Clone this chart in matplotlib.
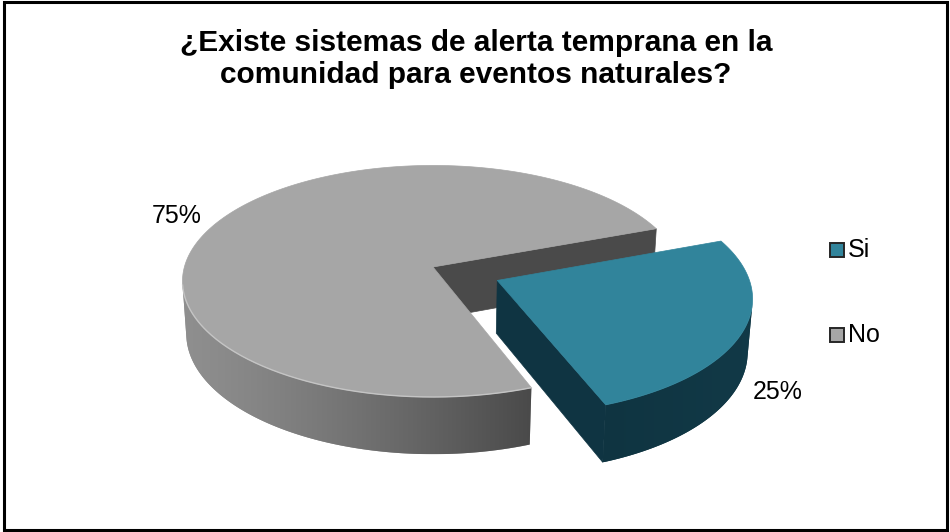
import numpy as np
import matplotlib
matplotlib.use("Agg")
import matplotlib.pyplot as plt
from matplotlib.patches import Polygon, Rectangle

# ---- data ---------------------------------------------------------------
labels = ["Si", "No"]
values = [25, 75]
title_lines = ["¿Existe sistemas de alerta temprana en la",
               "comunidad para eventos naturales?"]

# ---- styling ------------------------------------------------------------
top_colors = ["#31849B", "#A6A6A6"]
radial_colors = ["#0F3442", "#4A4A4A"]
side_light = [np.array([0.060, 0.205, 0.255]), np.array([0.56, 0.56, 0.56])]
side_dark = [np.array([0.070, 0.225, 0.280]), np.array([0.29, 0.29, 0.29])]
explode = [0.28, 0.0]

plt.rcParams["font.family"] = ["Liberation Sans", "DejaVu Sans"]

# ---- 3D view ------------------------------------------------------------
ELEV = np.radians(27.3)
DIST = 7.24
FOCAL = 1800.0
THICK = 0.24
START = 20.5            # degrees, edge of the first slice; slices run clockwise
ORIGIN = (433.0, 267.0)

S, C = np.sin(ELEV), np.cos(ELEV)
CAM = np.array([0.0, -DIST * C, DIST * S])


def project(X, Y, Z):
    X = np.asarray(X, float)
    Y = np.asarray(Y, float)
    Z = np.asarray(Z, float) * np.ones_like(X)
    depth = DIST + Y * C - Z * S
    sx = FOCAL * X / depth
    sy = FOCAL * (Y * S + Z * C) / depth
    return ORIGIN[0] + sx, ORIGIN[1] - sy


def faces_camera(point, normal):
    return np.dot(np.asarray(point) - CAM, np.asarray(normal)) < 0


fig = plt.figure(figsize=(9.5, 5.32), dpi=100)
ax = fig.add_axes([0, 0, 1, 1])

total = float(sum(values))
edges = [START]
for v in values:
    edges.append(edges[-1] - v / total * 360.0)

# "No" (index 1) sits behind the exploded "Si" slice, so draw it first
for i in [1, 0]:
    a0, a1 = edges[i], edges[i + 1]
    mid = np.radians((a0 + a1) / 2)
    ox, oy = explode[i] * np.cos(mid), explode[i] * np.sin(mid)
    n = 360
    th = np.radians(np.linspace(a0, a1, n))
    rx, ry = ox + np.cos(th), oy + np.sin(th)

    # radial walls
    for ang, nang in [(a0, a0 + 90.0), (a1, a1 - 90.0)]:
        t = np.radians(ang)
        nt = np.radians(nang)
        pm = np.array([ox + 0.5 * np.cos(t), oy + 0.5 * np.sin(t), -THICK / 2])
        if faces_camera(pm, [np.cos(nt), np.sin(nt), 0.0]):
            X = [ox, ox + np.cos(t), ox + np.cos(t), ox]
            Y = [oy, oy + np.sin(t), oy + np.sin(t), oy]
            Z = [0, 0, -THICK, -THICK]
            px, py = project(np.array(X), np.array(Y), np.array(Z))
            ax.add_patch(Polygon(np.column_stack([px, py]), closed=True,
                                 facecolor=radial_colors[i],
                                 edgecolor=radial_colors[i], lw=0.5))

    # outer curved wall (front-facing part only), shaded left to right
    tx, ty = project(rx, ry, 0.0)
    bx, by = project(rx, ry, -THICK)
    vis = []
    for j in range(n):
        pm = np.array([rx[j], ry[j], -THICK / 2])
        if faces_camera(pm, [np.cos(th[j]), np.sin(th[j]), 0.0]):
            vis.append(j)
    if vis:
        vis = np.array(vis)
        outline = np.vstack([np.column_stack([tx[vis], ty[vis]]),
                             np.column_stack([bx[vis][::-1], by[vis][::-1]])])
        wall = Polygon(outline, closed=True, facecolor=tuple(side_light[i]),
                       edgecolor="none")
        ax.add_patch(wall)
        x0, x1 = outline[:, 0].min(), outline[:, 0].max()
        y0, y1 = outline[:, 1].min(), outline[:, 1].max()
        k = np.linspace(0, 1, 512)
        if i == 1:
            k = k ** 1.25
        grad = side_light[i][None, :] * (1 - k[:, None]) + side_dark[i][None, :] * k[:, None]
        img = ax.imshow(grad[None, :, :], extent=[x0, x1, y1, y0],
                        aspect="auto", interpolation="bilinear", zorder=wall.get_zorder())
        img.set_clip_path(wall)
        if i == 1:
            ax.plot(tx[vis], ty[vis], color="#C4C4C4", lw=1.0)

    # top face
    cx, cy = project(ox, oy, 0.0)
    poly = np.vstack([[float(cx), float(cy)], np.column_stack([tx, ty])])
    ax.add_patch(Polygon(poly, closed=True, facecolor=top_colors[i],
                         edgecolor=top_colors[i], lw=0.5))

ax.set_xlim(0, 950)
ax.set_ylim(532, 0)
ax.axis("off")

# ---- data labels --------------------------------------------------------
label_pos = {"No": (177, 216), "Si": (778, 392)}
for lab, v in zip(labels, values):
    x, y = label_pos[lab]
    ax.text(x, y, f"{v}%", ha="center", va="center", fontsize=18,
            color="black")

# ---- legend -------------------------------------------------------------
legend_y = {"Si": 250, "No": 335}
for lab, col in zip(labels, top_colors):
    y = legend_y[lab]
    ax.add_patch(Rectangle((830, y - 7), 14, 14, facecolor=col,
                           edgecolor="#262626", lw=1.4))
    ax.text(848, y, lab, ha="left", va="center", fontsize=18, color="black")

# ---- title --------------------------------------------------------------
for k, line in enumerate(title_lines):
    ax.text(476, 51 + 32 * k, line, ha="center", va="baseline",
            fontsize=21.5, fontweight="bold", color="black")

# ---- outer frame --------------------------------------------------------
ax.add_patch(Rectangle((3.5, 2.0), 943, 527.5, fill=False,
                       edgecolor="black", lw=2.2))

fig.savefig("out.png", dpi=100)
